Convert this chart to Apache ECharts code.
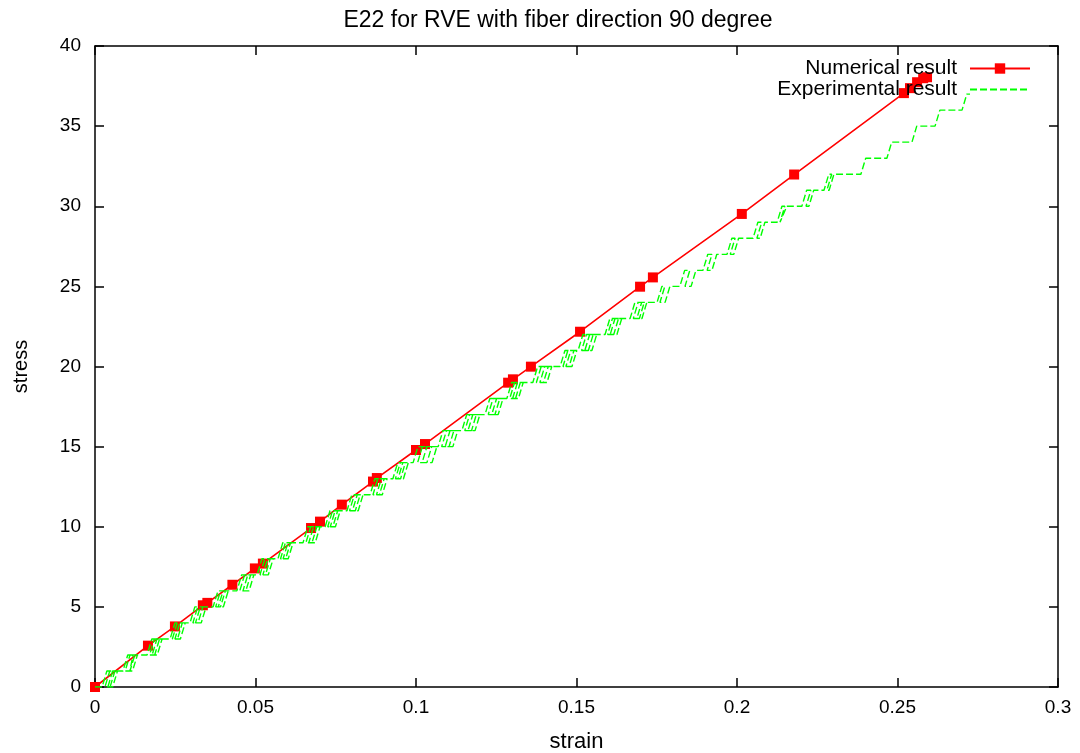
<!DOCTYPE html>
<html>
<head>
<meta charset="utf-8">
<script src="https://cdn.jsdelivr.net/npm/echarts@6/dist/echarts.min.js"></script>
<style>
html,body{margin:0;padding:0;background:#fff;}
#chart{width:1080px;height:753px;}
</style>
</head>
<body>
<div id="chart"></div>
<script>
// ---- Data ----
const titleText = 'E22 for RVE with fiber direction 90 degree';
const xName = 'strain';
const yName = 'stress';
const seriesNames = ['Numerical result', 'Experimental result'];

// Numerical result (red squares + line)
const numStrain = [0, 0.0165, 0.0249, 0.0336, 0.0350, 0.0428, 0.0498, 0.0523, 0.0673, 0.0701, 0.0769, 0.0866, 0.0878, 0.1000, 0.1028, 0.1287, 0.1302, 0.1358, 0.1511, 0.1698, 0.1738, 0.2015, 0.2178, 0.2520, 0.2539, 0.2561, 0.2580, 0.2592];
const numStress = [0, 2.58, 3.78, 5.10, 5.25, 6.38, 7.40, 7.70, 9.92, 10.32, 11.38, 12.82, 13.04, 14.79, 15.16, 18.99, 19.20, 19.99, 22.17, 24.98, 25.56, 29.52, 31.98, 37.06, 37.37, 37.74, 37.99, 38.05];

// Experimental result: stress stays on integer levels; for each step n -> n+1,
// the strain positions (bottom of each riser), in the order the signal toggles
// up / down / up ... between the two levels.
const expStartLevel = 0;
const expRisers = [
  [0.0022, 0.0055, 0.0031, 0.0047, 0.0040],
  [0.0087, 0.0117, 0.0094, 0.0109, 0.0103],
  [0.0162, 0.0194, 0.0170, 0.0186, 0.0178],
  [0.0234, 0.0266, 0.0241, 0.0257, 0.0249],
  [0.0296, 0.0331, 0.0305, 0.0321, 0.0313],
  [0.0368, 0.0400, 0.0376, 0.0391, 0.0384],
  [0.0442, 0.0480, 0.0451, 0.0470, 0.0461],
  [0.0505, 0.0540, 0.0514, 0.0531, 0.0523],
  [0.0570, 0.0602, 0.0578, 0.0594, 0.0586],
  [0.0648, 0.0686, 0.0657, 0.0676, 0.0666],
  [0.0717, 0.0749, 0.0725, 0.0741, 0.0733],
  [0.0785, 0.0820, 0.0793, 0.0811, 0.0802],
  [0.0857, 0.0895, 0.0866, 0.0886, 0.0877],
  [0.0928, 0.0961, 0.0936, 0.0952, 0.0944],
  [0.0991, 0.1050, 0.1005, 0.1034, 0.1019],
  [0.1069, 0.1115, 0.1080, 0.1103, 0.1091],
  [0.1143, 0.1184, 0.1152, 0.1173, 0.1162],
  [0.1215, 0.1256, 0.1225, 0.1246, 0.1236],
  [0.1283, 0.1319, 0.1292, 0.1310, 0.1301],
  [0.1364, 0.1408, 0.1375, 0.1397, 0.1386],
  [0.1449, 0.1486, 0.1458, 0.1477, 0.1467],
  [0.1505, 0.1548, 0.1516, 0.1537, 0.1526],
  [0.1589, 0.1626, 0.1597, 0.1616, 0.1605],
  [0.1667, 0.1704, 0.1677, 0.1696, 0.1688],
  [0.1751, 0.1760, 0.1776],
  [0.1822, 0.1838, 0.1857],
  [0.1894, 0.1907, 0.1922],
  [0.1969, 0.1979, 0.1990],
  [0.2050, 0.2062, 0.2072],
  [0.2125, 0.2134, 0.2140],
  [0.2202, 0.2215, 0.2224],
  [0.2271, 0.2280, 0.2287],
  [0.2386],
  [0.2467],
  [0.2545],
  [0.2617],
  [0.2701]
];
const expRiserWidth = 0.0015;   // strain change across one riser (read from slant)
const expEndStrain = 0.2726;

// ---- Build experimental polyline from the read values ----
const expData = [[0, expStartLevel]];
expRisers.forEach(function (list, i) {
  const n = expStartLevel + i;
  list.forEach(function (p, j) {
    if (j % 2 === 0) { expData.push([p, n]); expData.push([p + expRiserWidth, n + 1]); }
    else { expData.push([p + expRiserWidth, n + 1]); expData.push([p, n]); }
  });
});
expData.push([expEndStrain, expStartLevel + expRisers.length]);

const numData = numStrain.map(function (x, i) { return [x, numStress[i]]; });

const FONT = '"Liberation Sans", Arial, sans-serif';
const axisLineStyle = { color: '#000', width: 1.5 };

const chart = echarts.init(document.getElementById('chart'), null, { renderer: 'canvas' });
chart.setOption({
  animation: false,
  backgroundColor: '#fff',
  title: {
    text: titleText,
    left: 553,
    textAlign: 'center',
    top: 4,
    textStyle: { fontFamily: FONT, fontSize: 23, fontWeight: 'normal', color: '#000' }
  },
  legend: {
    data: [
      { name: seriesNames[0] },
      { name: seriesNames[1], itemStyle: { opacity: 0 } }
    ],
    orient: 'vertical',
    align: 'right',
    right: 44,
    top: 53,
    itemWidth: 60,
    itemHeight: 13,
    itemGap: 0,
    textStyle: { fontFamily: FONT, fontSize: 21, color: '#000', padding: [0, 8, 0, 0] }
  },
  grid: { left: 95, right: 22, top: 46, bottom: 66, containLabel: false, outerBoundsMode: 'none' },
  xAxis: [{
    type: 'value', min: 0, max: 0.3, interval: 0.05, position: 'bottom',
    name: xName, nameLocation: 'middle', nameGap: 44,
    nameTextStyle: { fontFamily: FONT, fontSize: 22, color: '#000' },
    axisLine: { show: true, onZero: false, lineStyle: axisLineStyle },
    axisTick: { show: true, inside: true, length: 9, lineStyle: axisLineStyle },
    axisLabel: { fontFamily: FONT, fontSize: 19, color: '#000', margin: 11 },
    splitLine: { show: false }
  }, {
    type: 'value', min: 0, max: 0.3, interval: 0.05, position: 'top',
    axisLine: { show: true, onZero: false, lineStyle: axisLineStyle },
    axisTick: { show: true, inside: true, length: 9, lineStyle: axisLineStyle },
    axisLabel: { show: false }, splitLine: { show: false }
  }],
  yAxis: [{
    type: 'value', min: 0, max: 40, interval: 5, position: 'left',
    name: yName, nameLocation: 'middle', nameGap: 64, nameRotate: 90,
    nameTextStyle: { fontFamily: FONT, fontSize: 20, color: '#000' },
    axisLine: { show: true, onZero: false, lineStyle: axisLineStyle },
    axisTick: { show: true, inside: true, length: 9, lineStyle: axisLineStyle },
    axisLabel: { fontFamily: FONT, fontSize: 19, color: '#000', margin: 14 },
    splitLine: { show: false }
  }, {
    type: 'value', min: 0, max: 40, interval: 5, position: 'right',
    axisLine: { show: true, onZero: false, lineStyle: axisLineStyle },
    axisTick: { show: true, inside: true, length: 9, lineStyle: axisLineStyle },
    axisLabel: { show: false }, splitLine: { show: false }
  }],
  series: [{
    name: seriesNames[0],
    type: 'line',
    xAxisIndex: 0, yAxisIndex: 0,
    data: numData,
    symbol: 'rect',
    symbolSize: 10,
    showSymbol: true,
    itemStyle: { color: '#ff0000' },
    lineStyle: { color: '#ff0000', width: 1.6 },
    z: 2
  }, {
    name: seriesNames[1],
    type: 'line',
    xAxisIndex: 0, yAxisIndex: 0,
    data: expData,
    showSymbol: false,
    symbol: 'none',
    itemStyle: { color: '#00ff00' },
    lineStyle: { color: '#00ff00', width: 1.4, type: [7, 3] },
    z: 3
  }]
});
</script>
</body>
</html>
